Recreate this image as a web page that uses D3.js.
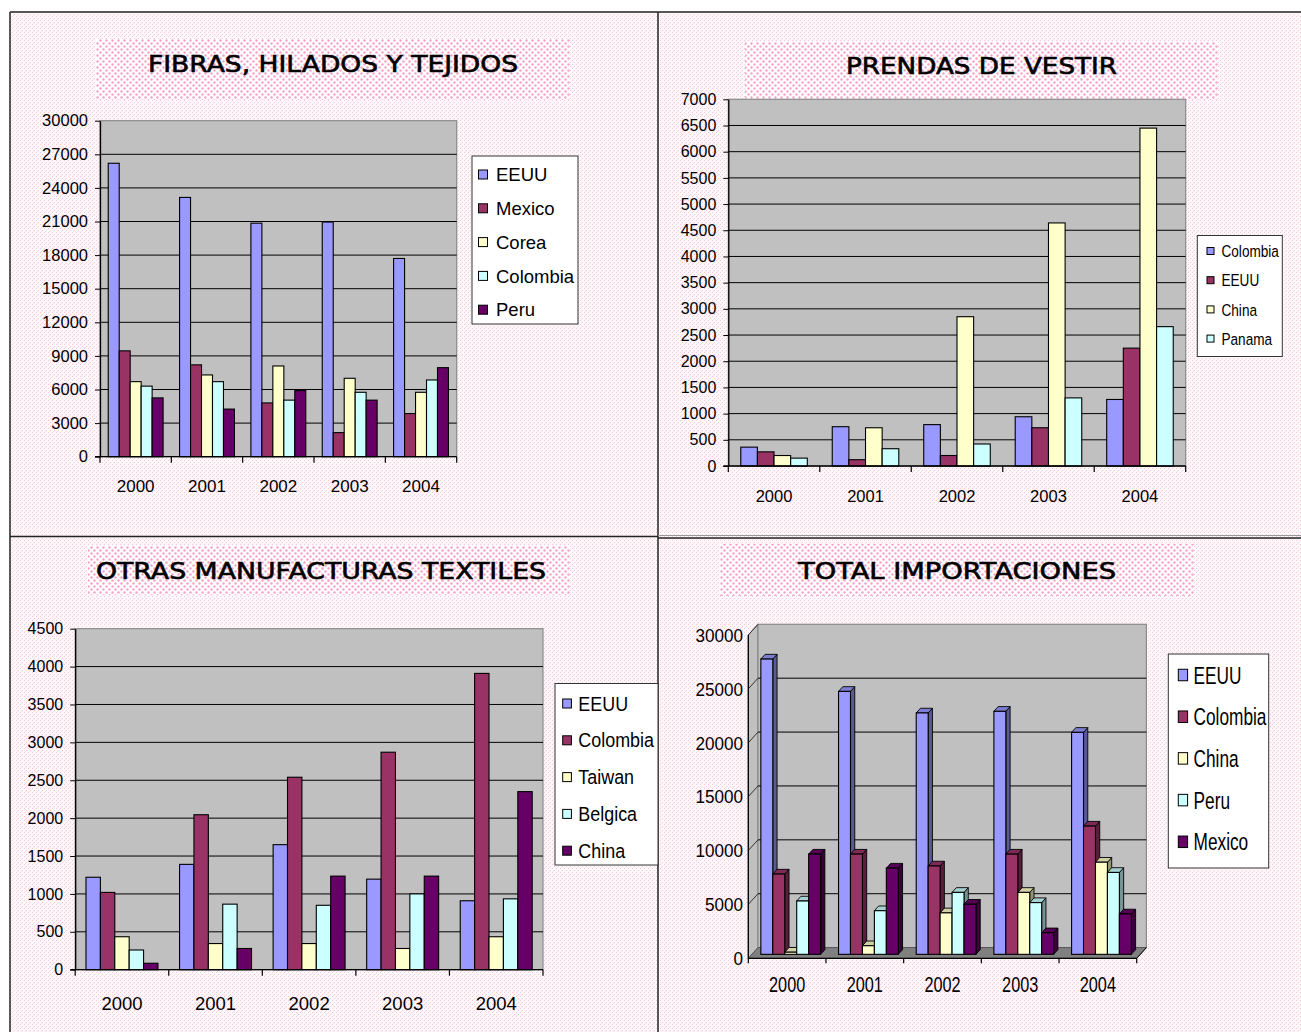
<!DOCTYPE html>
<html>
<head>
<meta charset="utf-8">
<script src="https://cdn.jsdelivr.net/npm/d3@7"></script>
<style>
  body { margin: 0; background: #fff; }
  svg { display: block; }
  text { font-family: "Liberation Sans", Arial, sans-serif; fill: #000; }
</style>
</head>
<body>
<svg id="chart" width="1301" height="1032"></svg>
<script>
// ---------- data ----------
const years = ["2000", "2001", "2002", "2003", "2004"];
const seriesColors = ["#9999FF", "#993366", "#FFFFCC", "#CCFFFF", "#660066"];

// Fibras, hilados y tejidos
const fibrasTitle = "FIBRAS, HILADOS Y TEJIDOS";
const fibrasSeries = ["EEUU", "Mexico", "Corea", "Colombia", "Peru"];
const fibrasEEUU = [26200, 23150, 20850, 20950, 17700];
const fibrasMexico = [9450, 8200, 4800, 2150, 3850];
const fibrasCorea = [6700, 7300, 8100, 7000, 5750];
const fibrasColombia = [6300, 6700, 5050, 5750, 6850];
const fibrasPeru = [5250, 4250, 5900, 5050, 7950];
const fibrasTicks = [0, 3000, 6000, 9000, 12000, 15000, 18000, 21000, 24000, 27000, 30000];

// Prendas de vestir
const prendasTitle = "PRENDAS DE VESTIR";
const prendasSeries = ["Colombia", "EEUU", "China", "Panama"];
const prendasColombia = [360, 750, 790, 940, 1270];
const prendasEEUU = [270, 120, 200, 730, 2250];
const prendasChina = [200, 730, 2850, 4640, 6450];
const prendasPanama = [150, 330, 420, 1300, 2660];
const prendasTicks = [0, 500, 1000, 1500, 2000, 2500, 3000, 3500, 4000, 4500, 5000, 5500, 6000, 6500, 7000];

// Otras manufacturas textiles
const otrasTitle = "OTRAS MANUFACTURAS TEXTILES";
const otrasSeries = ["EEUU", "Colombia", "Taiwan", "Belgica", "China"];
const otrasEEUU = [1220, 1390, 1650, 1195, 910];
const otrasColombia = [1020, 2045, 2540, 2870, 3910];
const otrasTaiwan = [435, 345, 345, 280, 435];
const otrasBelgica = [260, 865, 850, 1000, 935];
const otrasChina = [85, 280, 1235, 1235, 2350];
const otrasTicks = [0, 500, 1000, 1500, 2000, 2500, 3000, 3500, 4000, 4500];

// Total importaciones
const totalTitle = "TOTAL IMPORTACIONES";
const totalSeries = ["EEUU", "Colombia", "China", "Peru", "Mexico"];
const totalEEUU = [27400, 24400, 22400, 22550, 20600];
const totalColombia = [7450, 9300, 8200, 9300, 11900];
const totalChina = [200, 800, 3850, 5750, 8550];
const totalPeru = [4950, 4050, 5750, 4800, 7600];
const totalMexico = [9300, 8000, 4650, 2000, 3750];
const totalTicks = [0, 5000, 10000, 15000, 20000, 25000, 30000];

// ---------- canvas & textures ----------
const svg = d3.select("#chart");
const defs = svg.append("defs");

const bgPat = defs.append("pattern").attr("id", "bgDots")
  .attr("width", 4).attr("height", 4).attr("patternUnits", "userSpaceOnUse");
bgPat.append("rect").attr("width", 4).attr("height", 4).attr("fill", "#fef8fb");
bgPat.append("rect").attr("x", 0).attr("y", 0).attr("width", 1).attr("height", 1).attr("fill", "#f6c8dc");
bgPat.append("rect").attr("x", 2).attr("y", 2).attr("width", 1).attr("height", 1).attr("fill", "#f6c8dc");
bgPat.append("rect").attr("x", 1).attr("y", 3).attr("width", 1).attr("height", 1).attr("fill", "#fbe3ee");

const titlePat = defs.append("pattern").attr("id", "titleDots")
  .attr("width", 6).attr("height", 6).attr("patternUnits", "userSpaceOnUse");
titlePat.append("rect").attr("width", 6).attr("height", 6).attr("fill", "#fff");
titlePat.append("circle").attr("cx", 1.5).attr("cy", 1.5).attr("r", 1.2).attr("fill", "#f6a2c6");
titlePat.append("circle").attr("cx", 4.5).attr("cy", 4.5).attr("r", 1.2).attr("fill", "#f6a2c6");

svg.append("rect").attr("x", 10).attr("y", 12).attr("width", 1291).attr("height", 1020)
  .attr("fill", "url(#bgDots)");

// panel frame
const frame = svg.append("g").attr("stroke", "#222").attr("stroke-width", 1.5);
frame.append("line").attr("x1", 10).attr("y1", 12).attr("x2", 1301).attr("y2", 12);
frame.append("line").attr("x1", 10).attr("y1", 12).attr("x2", 10).attr("y2", 1032);
frame.append("line").attr("x1", 658).attr("y1", 12).attr("x2", 658).attr("y2", 1032);
frame.append("line").attr("x1", 10).attr("y1", 536.5).attr("x2", 658).attr("y2", 536.5);
frame.append("line").attr("x1", 658).attr("y1", 538).attr("x2", 1301).attr("y2", 538);
svg.append("line").attr("x1", 658).attr("y1", 535.5).attr("x2", 1301).attr("y2", 535.5)
  .attr("stroke", "#999").attr("stroke-width", 1);

// ---------- helpers ----------
function title(t) {
  svg.append("rect").attr("x", t.bx).attr("y", t.by).attr("width", t.bw).attr("height", t.bh)
    .attr("fill", "url(#titleDots)");
  svg.append("text").attr("x", t.x).attr("y", t.y)
    .style("font-family", "'DejaVu Sans', sans-serif")
    .attr("stroke", "#000").attr("stroke-width", 0.6)
    .attr("font-size", 22.5).attr("textLength", t.len).attr("lengthAdjust", "spacingAndGlyphs")
    .text(t.text);
}

function scaledText(g, x, y, str, size, sx, anchor) {
  return g.append("text")
    .attr("transform", `translate(${x},${y}) scale(${sx},1)`)
    .attr("text-anchor", anchor || "start")
    .attr("font-size", size)
    .text(str);
}

function legend(l) {
  const g = svg.append("g");
  g.append("rect").attr("x", l.x).attr("y", l.y).attr("width", l.w).attr("height", l.h)
    .attr("fill", "#fff").attr("stroke", "#333").attr("stroke-width", 1);
  l.series.forEach((s, i) => {
    const cy = l.firstY + i * l.step;
    g.append("rect").attr("x", l.sqX).attr("y", cy - l.sqH / 2).attr("width", l.sqW).attr("height", l.sqH)
      .attr("fill", seriesColors[i]).attr("stroke", "#000").attr("stroke-width", 1);
    scaledText(g, l.textX, cy + l.size * 0.36, s, l.size, l.sx);
  });
}

function draw2D(c) {
  const g = svg.append("g");
  const y = d3.scaleLinear().domain([0, d3.max(c.ticks)]).range([c.yBot, c.yTop]);
  const x = d3.scaleBand().domain(years).range([c.x0, c.x1]);
  const C = x.bandwidth();
  const w = C / (c.series.length + 1.5);
  const inner = d3.scaleBand().domain(c.series).range([0.75 * w, C - 0.75 * w]);

  g.append("rect").attr("x", c.x0).attr("y", c.yTop).attr("width", c.x1 - c.x0).attr("height", c.yBot - c.yTop)
    .attr("fill", "#c0c0c0").attr("stroke", "#8a8a8a").attr("stroke-width", 1.2);

  g.selectAll("line.grid").data(c.ticks.filter(t => t > 0 && t < d3.max(c.ticks))).join("line")
    .attr("class", "grid")
    .attr("x1", c.x0).attr("x2", c.x1)
    .attr("y1", d => y(d)).attr("y2", d => y(d))
    .attr("stroke", "#000").attr("stroke-width", 1);

  c.series.forEach((s, i) => {
    g.selectAll(null).data(c.values[i]).join("rect")
      .attr("x", (d, j) => x(years[j]) + inner(s))
      .attr("y", d => y(d))
      .attr("width", inner.bandwidth())
      .attr("height", d => y(0) - y(d))
      .attr("fill", seriesColors[i])
      .attr("stroke", "#000").attr("stroke-width", 1.1);
  });

  const ya = d3.axisLeft(y).tickValues(c.ticks).tickSize(5).tickSizeOuter(0)
    .tickPadding(c.pad).tickFormat(d3.format("d"));
  const ag = g.append("g").attr("transform", `translate(${c.x0},0)`).call(ya);
  ag.select(".domain").attr("stroke", "#000").attr("stroke-width", 1.3);
  ag.selectAll(".tick line").attr("stroke", "#000");
  ag.selectAll(".tick text").attr("font-size", c.yFont).attr("font-family", "Liberation Sans, Arial, sans-serif");

  // category axis
  g.append("line").attr("x1", c.x0 - 5).attr("x2", c.x1).attr("y1", c.yBot).attr("y2", c.yBot)
    .attr("stroke", "#000").attr("stroke-width", 1.3);
  const bounds = years.map(yr => x(yr)).concat([c.x1]);
  g.selectAll("line.xt").data(bounds).join("line").attr("class", "xt")
    .attr("x1", d => d).attr("x2", d => d).attr("y1", c.yBot).attr("y2", c.yBot + 6)
    .attr("stroke", "#000").attr("stroke-width", 1.2);
  g.selectAll("text.xl").data(years).join("text").attr("class", "xl")
    .attr("x", d => x(d) + C / 2).attr("y", c.xLabelY)
    .attr("text-anchor", "middle").attr("font-size", c.xFont).text(d => d);
}

// ---------- chart 1 ----------
title({ bx: 96, by: 39, bw: 474, bh: 61, x: 148, y: 72, len: 370, text: fibrasTitle });
draw2D({
  x0: 100, x1: 456.7, yTop: 120.7, yBot: 456.7, ticks: fibrasTicks, pad: 7,
  series: fibrasSeries, values: [fibrasEEUU, fibrasMexico, fibrasCorea, fibrasColombia, fibrasPeru],
  yFont: 16.5, xFont: 17, xLabelY: 491.5
});
legend({ x: 472, y: 156, w: 106, h: 168, series: fibrasSeries, firstY: 174.5, step: 33.8,
  sqX: 478.5, sqW: 9, sqH: 9, textX: 496, size: 18.5, sx: 1 });

// ---------- chart 2 ----------
title({ bx: 745, by: 42, bw: 473, bh: 58, x: 846, y: 74, len: 271, text: prendasTitle });
draw2D({
  x0: 728.3, x1: 1185.7, yTop: 99.3, yBot: 466, ticks: prendasTicks, pad: 7,
  series: prendasSeries, values: [prendasColombia, prendasEEUU, prendasChina, prendasPanama],
  yFont: 16, xFont: 16.5, xLabelY: 502
});
legend({ x: 1197.3, y: 235.5, w: 85, h: 121, series: prendasSeries, firstY: 251, step: 29.2,
  sqX: 1207, sqW: 7, sqH: 7, textX: 1221.5, size: 17, sx: 0.8 });

// ---------- chart 3 ----------
title({ bx: 88, by: 546, bw: 482, bh: 49, x: 96, y: 578.5, len: 450, text: otrasTitle });
draw2D({
  x0: 75.2, x1: 543, yTop: 628.7, yBot: 969.7, ticks: otrasTicks, pad: 7,
  series: otrasSeries, values: [otrasEEUU, otrasColombia, otrasTaiwan, otrasBelgica, otrasChina],
  yFont: 16, xFont: 18.5, xLabelY: 1010
});
legend({ x: 555, y: 683.5, w: 103, h: 181.5, series: otrasSeries, firstY: 703.5, step: 36.8,
  sqX: 562.7, sqW: 8.7, sqH: 9, textX: 578.3, size: 19.5, sx: 0.92 });

// ---------- chart 4 (3-D clustered columns) ----------
title({ bx: 720, by: 544, bw: 474, bh: 52, x: 798, y: 578.5, len: 318, text: totalTitle });
(function draw3D() {
  const g = svg.append("g");
  const x0 = 748.3, x1 = 1136.7, yBot = 958.3, yTop = 635;
  const DX = 9.7, DY = -10.7;             // full floor depth offset
  const front = 0.37, depth = 0.44;       // bar position inside the floor depth
  const y = d3.scaleLinear().domain([0, d3.max(totalTicks)]).range([yBot, yTop]);
  const x = d3.scaleBand().domain(years).range([x0, x1]);
  const C = x.bandwidth();
  const w = C / (totalSeries.length + 1.5);
  const inner = d3.scaleBand().domain(totalSeries).range([0.75 * w, C - 0.75 * w]);
  const vmax = d3.max(totalTicks);

  // left wall
  g.append("polygon")
    .attr("points", [[x0, y(0)], [x0, y(vmax)], [x0 + DX, y(vmax) + DY], [x0 + DX, y(0) + DY]].join(" "))
    .attr("fill", "#c0c0c0").attr("stroke", "#777").attr("stroke-width", 1);
  // back wall
  g.append("rect").attr("x", x0 + DX).attr("y", y(vmax) + DY)
    .attr("width", x1 - x0).attr("height", y(0) - y(vmax))
    .attr("fill", "#c0c0c0").attr("stroke", "#8a8a8a").attr("stroke-width", 1.2);
  g.selectAll("line.bg").data(totalTicks.filter(t => t > 0 && t < vmax)).join("line").attr("class", "bg")
    .attr("x1", x0 + DX).attr("x2", x1 + DX)
    .attr("y1", d => y(d) + DY).attr("y2", d => y(d) + DY)
    .attr("stroke", "#000").attr("stroke-width", 1);
  g.selectAll("line.lw").data(totalTicks.filter(t => t > 0)).join("line").attr("class", "lw")
    .attr("x1", x0).attr("x2", x0 + DX)
    .attr("y1", d => y(d)).attr("y2", d => y(d) + DY)
    .attr("stroke", "#333").attr("stroke-width", 1);
  // floor
  g.append("polygon")
    .attr("points", [[x0, y(0)], [x1, y(0)], [x1 + DX, y(0) + DY], [x0 + DX, y(0) + DY]].join(" "))
    .attr("fill", "#808080").attr("stroke", "#555").attr("stroke-width", 1);

  // bars, left to right so each front face covers its neighbour's side face
  const fx = front * DX, fy = front * DY, bx = depth * DX, by = depth * DY;
  years.forEach((yr, j) => {
    totalSeries.forEach((s, i) => {
      const v = [totalEEUU, totalColombia, totalChina, totalPeru, totalMexico][i][j];
      const L = x(yr) + inner(s) + fx, R = L + inner.bandwidth();
      const T = y(v) + fy, B = y(0) + fy;
      const col = d3.color(seriesColors[i]);
      const side = d3.interpolateRgb(seriesColors[i], "#000")(0.42);
      const top = d3.interpolateRgb(seriesColors[i], "#000")(0.18);
      g.append("polygon").attr("points", [[R, B], [R, T], [R + bx, T + by], [R + bx, B + by]].join(" "))
        .attr("fill", side).attr("stroke", "#000").attr("stroke-width", 0.9);
      g.append("polygon").attr("points", [[L, T], [R, T], [R + bx, T + by], [L + bx, T + by]].join(" "))
        .attr("fill", top).attr("stroke", "#000").attr("stroke-width", 0.9);
      g.append("rect").attr("x", L).attr("y", T).attr("width", R - L).attr("height", B - T)
        .attr("fill", col.formatHex()).attr("stroke", "#000").attr("stroke-width", 1.1);
    });
  });

  // axes
  g.append("line").attr("x1", x0).attr("x2", x0).attr("y1", y(0)).attr("y2", y(vmax))
    .attr("stroke", "#000").attr("stroke-width", 1.3);
  g.append("line").attr("x1", x0).attr("x2", x1).attr("y1", y(0)).attr("y2", y(0))
    .attr("stroke", "#000").attr("stroke-width", 1.3);
  g.append("line").attr("x1", x1).attr("x2", x1 + DX).attr("y1", y(0)).attr("y2", y(0) + DY)
    .attr("stroke", "#000").attr("stroke-width", 1);
  const bounds = years.map(yr => x(yr)).concat([x1]);
  g.selectAll("line.xt").data(bounds).join("line").attr("class", "xt")
    .attr("x1", d => d).attr("x2", d => d).attr("y1", y(0)).attr("y2", y(0) + 5)
    .attr("stroke", "#000").attr("stroke-width", 1.2);
  totalTicks.forEach(t => {
    scaledText(g, 743, y(t) + 6.8, d3.format("d")(t), 19, 0.9, "end");
  });
  years.forEach(yr => {
    scaledText(g, x(yr) + C / 2, 992, yr, 22, 0.74, "middle");
  });
})();
legend({ x: 1168.3, y: 654, w: 100.4, h: 214, series: totalSeries, firstY: 675, step: 41.7,
  sqX: 1178.3, sqW: 9.3, sqH: 11.5, textX: 1193.5, size: 24, sx: 0.72 });
</script>
</body>
</html>
